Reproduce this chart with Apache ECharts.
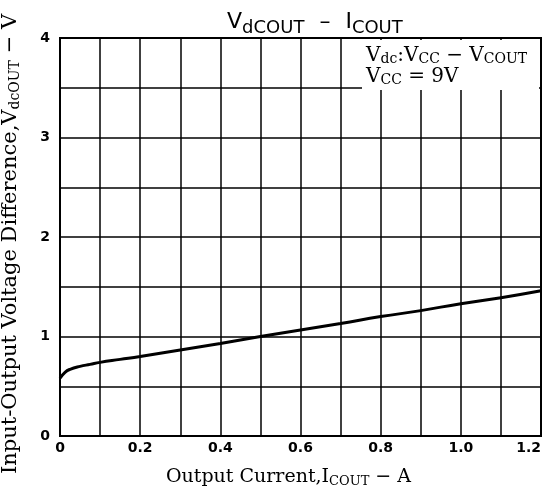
<!DOCTYPE html>
<html>
<head>
<meta charset="utf-8">
<script src="https://cdn.jsdelivr.net/npm/echarts@6/dist/echarts.min.js"></script>
<style>
  html, body { margin: 0; padding: 0; background: #fff; }
  #chart { width: 546px; height: 488px; }
</style>
</head>
<body>
<div id="chart"></div>
<script>
// output current (A) and input-output voltage difference (V)
var currentA = [0, 0.0125, 0.025, 0.05, 0.075, 0.1, 0.15, 0.2, 0.3, 0.4, 0.5, 0.6, 0.7, 0.8, 0.9, 1.0, 1.1, 1.2];
var vdcout = [0.58, 0.64, 0.67, 0.7, 0.72, 0.74, 0.77, 0.8, 0.865, 0.93, 1.0, 1.065, 1.13, 1.2, 1.26, 1.33, 1.39, 1.46];

var xTicks = ['0', '0.2', '0.4', '0.6', '0.8', '1.0', '1.2'];
var yTicks = ['0', '1', '2', '3', '4'];

var serif = '"DejaVu Serif", "Liberation Serif", serif';
var sans = '"DejaVu Sans", sans-serif';

var points = currentA.map(function (x, i) { return [x, vdcout[i]]; });

var chart = echarts.init(document.getElementById('chart'));

var option = {
  animation: false,
  backgroundColor: '#fff',
  title: {
    text: '{a|V}{b|dCOUT}   {a|–}   {a|I}{b|COUT}',
    left: 222,
    top: 0,
    textStyle: {
      rich: {
        a: { fontFamily: sans, fontSize: 22, fontWeight: 'normal', color: '#000', verticalAlign: 'bottom', lineHeight: 28 },
        b: { fontFamily: sans, fontSize: 18, fontWeight: 'normal', color: '#000', verticalAlign: 'bottom', lineHeight: 28, padding: [0, 0, -4, 0] }
      }
    }
  },
  grid: {
    left: 60, right: 5, top: 38, bottom: 52,
    outerBoundsMode: 'none',
    show: true,
    borderColor: '#000',
    borderWidth: 2
  },
  xAxis: {
    type: 'value',
    min: 0, max: 1.2, interval: 0.1,
    name: '{n|Output Current,I}{s|COUT}{n| − A}',
    nameLocation: 'middle',
    nameGap: 30,
    nameTextStyle: {
      padding: [0, 24, 0, 0],
      rich: {
        n: { fontFamily: serif, fontSize: 19, color: '#000' },
        s: { fontFamily: serif, fontSize: 13, color: '#000', padding: [9, 0, 0, 0] }
      }
    },
    axisLine: { show: true, lineStyle: { color: '#000', width: 2 } },
    axisTick: { show: false },
    splitLine: { show: true, lineStyle: { color: '#000', width: 1.5 } },
    axisLabel: {
      fontFamily: sans, fontWeight: 'bold', fontSize: 14, color: '#000', margin: 5,
      alignMaxLabel: 'right',
      formatter: function (v) {
        var k = Math.round(v * 10);
        return k % 2 === 0 ? xTicks[k / 2] : '';
      }
    }
  },
  yAxis: {
    type: 'value',
    min: 0, max: 4, interval: 0.5,
    name: '{n|Input-Output Voltage Difference,V}{s|dcOUT}{n| − V}',
    nameLocation: 'middle',
    nameRotate: 90,
    nameGap: 38,
    nameTextStyle: {
      padding: [0, 14, 0, 0],
      rich: {
        n: { fontFamily: serif, fontSize: 21, color: '#000' },
        s: { fontFamily: serif, fontSize: 14, color: '#000', padding: [9, 0, 0, 0] }
      }
    },
    axisLine: { show: true, lineStyle: { color: '#000', width: 2 } },
    axisTick: { show: false },
    splitLine: { show: true, lineStyle: { color: '#000', width: 1.5 } },
    axisLabel: {
      fontFamily: sans, fontWeight: 'bold', fontSize: 14, color: '#000', margin: 10,
      formatter: function (v) {
        var k = Math.round(v * 2);
        return k % 2 === 0 ? yTicks[k / 2] : '';
      }
    }
  },
  graphic: [
    {
      type: 'rect',
      z: 10,
      shape: { x: 362, y: 40, width: 177, height: 50 },
      style: { fill: '#fff' }
    },
    {
      type: 'text',
      z: 11,
      left: 366,
      top: 45,
      style: {
        text: '{n|V}{s|dc}{n|:V}{s|CC}{n| − V}{s|COUT}\n{n|V}{s|CC}{n| = 9V}',
        rich: {
          n: { fontFamily: serif, fontSize: 20, fill: '#000', lineHeight: 21 },
          s: { fontFamily: serif, fontSize: 14, fill: '#000', lineHeight: 21, padding: [7, 0, 0, 0] }
        }
      }
    }
  ],
  series: [
    {
      type: 'line',
      data: points,
      smooth: true,
      showSymbol: false,
      lineStyle: { color: '#000', width: 3 },
      z: 5
    }
  ]
};

chart.setOption(option);
</script>
</body>
</html>
